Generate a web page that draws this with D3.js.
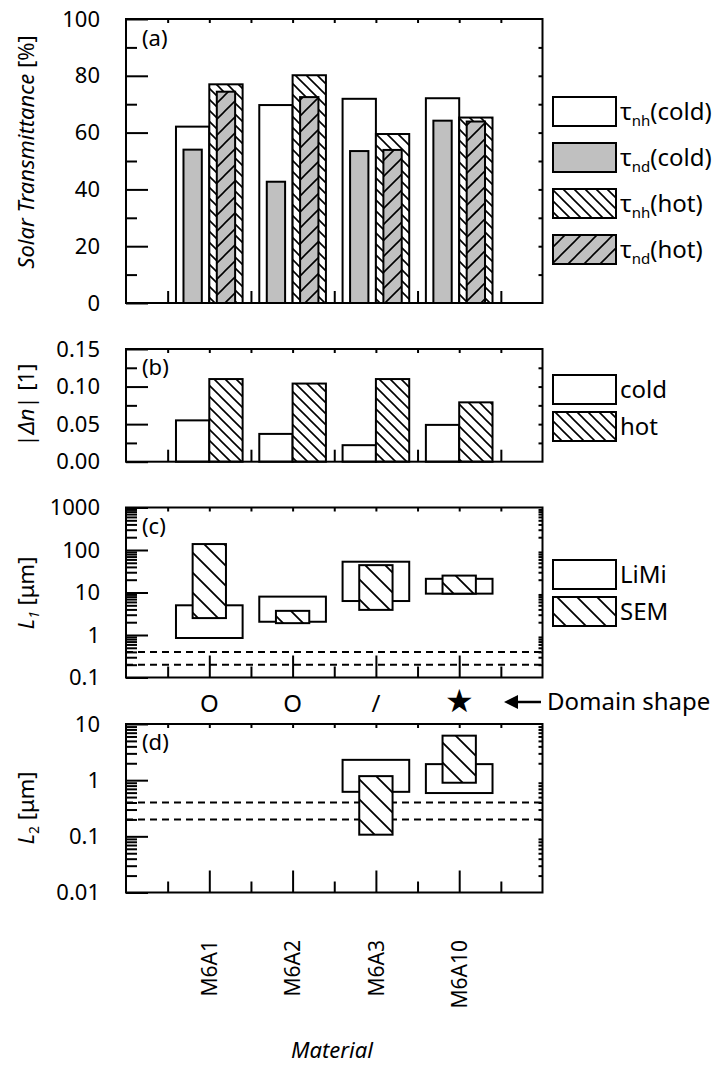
<!DOCTYPE html>
<html>
<head>
<meta charset="utf-8">
<script src="https://cdn.jsdelivr.net/npm/d3@7"></script>
<style>
  body { margin: 0; background: #fff; }
  svg text { font-family: "Noto Sans", sans-serif; fill: #000; }
</style>
</head>
<body>
<div id="chart"></div>
<script>
// materials and their slot on the shared x axis (0..10)
const categories = ["M6A1", "M6A2", "M6A3", "M6A10"];
const positions = [2, 4, 6, 8];

// (a) solar transmittance [%]
const tauNhCold = [62.1, 69.7, 71.9, 72.1];
const tauNdCold = [54.0, 42.7, 53.5, 64.2];
const tauNhHot = [77.0, 80.2, 59.5, 65.3];
const tauNdHot = [74.4, 72.5, 53.9, 63.9];

// (b) |dn|
const dnCold = [0.055, 0.037, 0.022, 0.049];
const dnHot = [0.110, 0.104, 0.110, 0.079];

// (c) L1 ranges [um], [low, high]
const l1LiMi = [[0.85, 5.0], [2.05, 8.0], [6.3, 53], [9.4, 21]];
const l1Sem = [[2.5, 138], [1.9, 3.7], [3.9, 44], [9.4, 25]];

// (d) L2 ranges [um]
const l2LiMi = [null, null, [0.62, 2.3], [0.59, 1.93]];
const l2Sem = [null, null, [0.107, 1.18], [0.9, 6.2]];

const limitLines = [0.2, 0.4];
const domainShapes = ["O", "O", "/", "\u2605"];

const ticksA = [0, 20, 40, 60, 80, 100];
const minorA = [10, 30, 50, 70, 90];
const ticksB = [0, 0.05, 0.10, 0.15];
const minorB = [0.025, 0.075, 0.125];
const ticksC = [0.1, 1, 10, 100, 1000];
const ticksD = [0.01, 0.1, 1, 10];

const W = 712, H = 1070;
const left = 126, right = 542.5;

const svg = d3.select("#chart").append("svg")
  .attr("width", W)
  .attr("height", H);

const defs = svg.append("defs");

function hatch(id, size, dir, bg, sw) {
  const s = size;
  const p = defs.append("pattern")
    .attr("id", id)
    .attr("patternUnits", "userSpaceOnUse")
    .attr("width", s)
    .attr("height", s);
  p.append("rect").attr("width", s).attr("height", s).attr("fill", bg);
  const d = dir === "back"
    ? `M0,0L${s},${s}M${-s / 2},${s / 2}L${s / 2},${1.5 * s}M${s / 2},${-s / 2}L${1.5 * s},${s / 2}`
    : `M0,${s}L${s},0M${-s / 2},${s / 2}L${s / 2},${-s / 2}M${s / 2},${1.5 * s}L${1.5 * s},${s / 2}`;
  p.append("path").attr("d", d).attr("stroke", "#000").attr("stroke-width", sw).attr("fill", "none");
}
hatch("hBack", 11, "back", "#fff", 1.6);
hatch("hFwdGray", 16, "fwd", "#c0c0c0", 1.6);
hatch("hBackWide", 20, "back", "#fff", 1.8);

const x = d3.scaleLinear().domain([0, 10]).range([left, right]);

const gray = "#c0c0c0";

// frame + ticks for one panel
function panel(y, yTicks, yMinor, fmt, bottomLong, bottomShort, shortLen, rightTicks) {
  const [y1, y0] = y.range();
  const g = svg.append("g");

  // top ticks
  g.append("g")
    .attr("transform", `translate(0,${y0})`)
    .call(d3.axisTop(x).tickValues(d3.range(1, 10)).tickSize(-4).tickFormat(""))
    .call(a => a.select(".domain").remove());

  // bottom ticks
  g.append("g")
    .attr("transform", `translate(0,${y1})`)
    .call(d3.axisBottom(x).tickValues(bottomLong).tickSize(-22).tickFormat(""))
    .call(a => a.select(".domain").remove());
  g.append("g")
    .attr("transform", `translate(0,${y1})`)
    .call(d3.axisBottom(x).tickValues(bottomShort).tickSize(-shortLen).tickFormat(""))
    .call(a => a.select(".domain").remove());

  // left axis
  g.append("g")
    .attr("transform", `translate(${left},0)`)
    .call(d3.axisLeft(y).tickValues(yTicks).tickSize(-22).tickPadding(26).tickFormat(fmt))
    .call(a => a.select(".domain").remove())
    .call(a => a.selectAll("text").attr("font-size", 22).attr("font-family", "Noto Sans"));
  g.append("g")
    .attr("transform", `translate(${left},0)`)
    .call(d3.axisLeft(y).tickValues(yMinor).tickSize(-11).tickFormat(""))
    .call(a => a.select(".domain").remove());

  // right axis
  g.append("g")
    .attr("transform", `translate(${right},0)`)
    .call(d3.axisRight(y).tickValues(rightTicks).tickSize(-4).tickFormat(""))
    .call(a => a.select(".domain").remove());

  g.selectAll(".tick line").attr("stroke-width", 2);
  return g;
}

function frame(y) {
  const [y1, y0] = y.range();
  svg.append("rect")
    .attr("x", left).attr("y", y0)
    .attr("width", right - left).attr("height", y1 - y0)
    .attr("fill", "none").attr("stroke", "#000").attr("stroke-width", 2);
}

function logMinor(lo, hi) {
  const out = [];
  for (let d = lo; d < hi * 0.99; d *= 10) for (let k = 2; k <= 9; k++) out.push(d * k);
  return out;
}

function panelLetter(txt, yb) {
  svg.append("text").attr("x", 142).attr("y", yb).attr("font-size", 22).text(txt);
}

function legendBox(y, fill, parts) {
  svg.append("rect")
    .attr("x", 553).attr("y", y).attr("width", 63).attr("height", 29)
    .attr("fill", fill).attr("stroke", "#000").attr("stroke-width", 2);
  const t = svg.append("text").attr("x", 620).attr("y", y + 23).attr("font-size", 24);
  parts(t);
}

function yLabel(cy, parts) {
  const t = svg.append("text")
    .attr("transform", `translate(34,${cy}) rotate(-90)`)
    .attr("text-anchor", "middle")
    .attr("font-size", 22);
  parts(t);
}

// ---------- (a) ----------
const ya = d3.scaleLinear().domain([0, 100]).range([303, 19]);
const aBars = svg.append("g").attr("stroke", "#000").attr("stroke-width", 2);
function bars(g, vals, y, x0, x1, fill) {
  g.selectAll(null).data(vals).enter().append("rect")
    .attr("x", (d, i) => x(positions[i] + x0))
    .attr("width", x(x1) - x(x0))
    .attr("y", d => y(d))
    .attr("height", d => y(0) - y(d))
    .attr("fill", fill);
}
bars(aBars, tauNhCold, ya, -0.8, 0, "#fff");
bars(aBars, tauNdCold, ya, -0.62, -0.18, gray);
bars(aBars, tauNhHot, ya, 0, 0.8, "url(#hBack)");
bars(aBars, tauNdHot, ya, 0.18, 0.62, "url(#hFwdGray)");
panel(ya, ticksA, minorA, d3.format("d"), [], [1, 3, 5, 7, 9], 12, d3.range(10, 100, 10));
frame(ya);
panelLetter("(a)", 46);

function tau(sub, cond) {
  return t => {
    t.append("tspan").text("\u03c4");
    t.append("tspan").attr("font-size", 15).attr("dy", 6).text(sub);
    t.append("tspan").attr("dy", -6).text(cond);
  };
}
legendBox(97, "#fff", tau("nh", "(cold)"));
legendBox(143, gray, tau("nd", "(cold)"));
legendBox(189, "url(#hBack)", tau("nh", "(hot)"));
legendBox(235, "url(#hFwdGray)", tau("nd", "(hot)"));

yLabel(152, t => {
  t.append("tspan").attr("font-style", "italic").text("Solar Transmittance");
  t.append("tspan").text(" [%]");
});

// ---------- (b) ----------
const yb = d3.scaleLinear().domain([0, 0.15]).range([461.7, 349]);
const bBars = svg.append("g").attr("stroke", "#000").attr("stroke-width", 2);
bars(bBars, dnCold, yb, -0.8, 0, "#fff");
bars(bBars, dnHot, yb, 0, 0.8, "url(#hBack)");
panel(yb, ticksB, minorB, d3.format(".2f"), [], [1, 3, 5, 7, 9], 12, d3.range(1, 6).map(k => k * 0.025));
frame(yb);
panelLetter("(b)", 375);
legendBox(375, "#fff", t => t.text("cold"));
legendBox(412, "url(#hBack)", t => t.text("hot"));
yLabel(405, t => {
  t.append("tspan").text("|");
  t.append("tspan").attr("font-style", "italic").text("\u0394n");
  t.append("tspan").text("| [1]");
});

// ---------- (c) ----------
const yc = d3.scaleLog().domain([0.1, 1000]).range([677.5, 507.5]);
function ranges(g, vals, y, half, fill) {
  const data = vals.map((d, i) => d ? { r: d, p: positions[i] } : null).filter(d => d);
  g.selectAll(null).data(data).enter().append("rect")
    .attr("x", d => x(d.p - half))
    .attr("width", x(half) - x(-half))
    .attr("y", d => y(d.r[1]))
    .attr("height", d => y(d.r[0]) - y(d.r[1]))
    .attr("fill", fill);
}
function dashed(y) {
  svg.append("g").selectAll(null).data(limitLines).enter().append("line")
    .attr("x1", left).attr("x2", right)
    .attr("y1", d => y(d)).attr("y2", d => y(d))
    .attr("stroke", "#000").attr("stroke-width", 2).attr("stroke-dasharray", "7,5");
}
dashed(yc);
const cBoxes = svg.append("g").attr("stroke", "#000").attr("stroke-width", 2);
ranges(cBoxes, l1LiMi, yc, 0.8, "none");
ranges(cBoxes, l1Sem, yc, 0.4, "url(#hBackWide)");
panel(yc, ticksC, logMinor(0.1, 1000), d3.format("~g"), [2, 4, 6, 8], [1, 3, 5, 7, 9], 11, logMinor(0.1, 1000));
frame(yc);
panelLetter("(c)", 534);
legendBox(560, "#fff", t => t.text("LiMi"));
legendBox(597, "url(#hBackWide)", t => t.text("SEM"));
yLabel(593, t => {
  t.append("tspan").attr("font-style", "italic").text("L");
  t.append("tspan").attr("font-style", "italic").attr("font-size", 14).attr("dy", 5).text("1");
  t.append("tspan").attr("dy", -5).text(" [\u03bcm]");
});

// domain shapes row
svg.append("g").selectAll(null).data(domainShapes).enter().append("text")
  .attr("x", (d, i) => x(positions[i]))
  .attr("y", 712)
  .attr("text-anchor", "middle")
  .attr("font-size", d => d === "\u2605" ? 32 : 24)
  .attr("font-family", d => d === "\u2605" ? "DejaVu Sans" : "Noto Sans")
  .text(d => d);
svg.append("path")
  .attr("d", "M541,702H515")
  .attr("stroke", "#000").attr("stroke-width", 2.5);
svg.append("path")
  .attr("d", "M504,702L518,695L518,709Z")
  .attr("fill", "#000");
svg.append("text").attr("x", 547).attr("y", 710).attr("font-size", 24).text("Domain shape");

// ---------- (d) ----------
const yd = d3.scaleLog().domain([0.01, 10]).range([892.5, 724]);
dashed(yd);
const dBoxes = svg.append("g").attr("stroke", "#000").attr("stroke-width", 2);
ranges(dBoxes, l2LiMi, yd, 0.8, "none");
ranges(dBoxes, l2Sem, yd, 0.4, "url(#hBackWide)");
panel(yd, ticksD, logMinor(0.01, 10), d3.format("~g"), [2, 4, 6, 8], [1, 3, 5, 7, 9], 11, logMinor(0.01, 10));
frame(yd);
panelLetter("(d)", 750);
yLabel(808, t => {
  t.append("tspan").attr("font-style", "italic").text("L");
  t.append("tspan").attr("font-size", 14).attr("dy", 5).text("2");
  t.append("tspan").attr("dy", -5).text(" [\u03bcm]");
});

// category labels under (d)
svg.append("g")
  .attr("transform", "translate(0,940)")
  .call(d3.axisBottom(x).tickValues(positions).tickSize(0).tickFormat((d, i) => categories[i]))
  .call(a => a.select(".domain").remove())
  .call(a => a.selectAll("text")
    .attr("font-size", 21)
    .attr("font-family", "Noto Sans")
    .attr("text-anchor", "end")
    .attr("transform", "rotate(-90)")
    .attr("x", 0).attr("y", 0).attr("dx", 0).attr("dy", "0.35em"));

svg.append("text")
  .attr("x", 332).attr("y", 1058)
  .attr("text-anchor", "middle")
  .attr("font-size", 22)
  .attr("font-style", "italic")
  .text("Material");
</script>
</body>
</html>
